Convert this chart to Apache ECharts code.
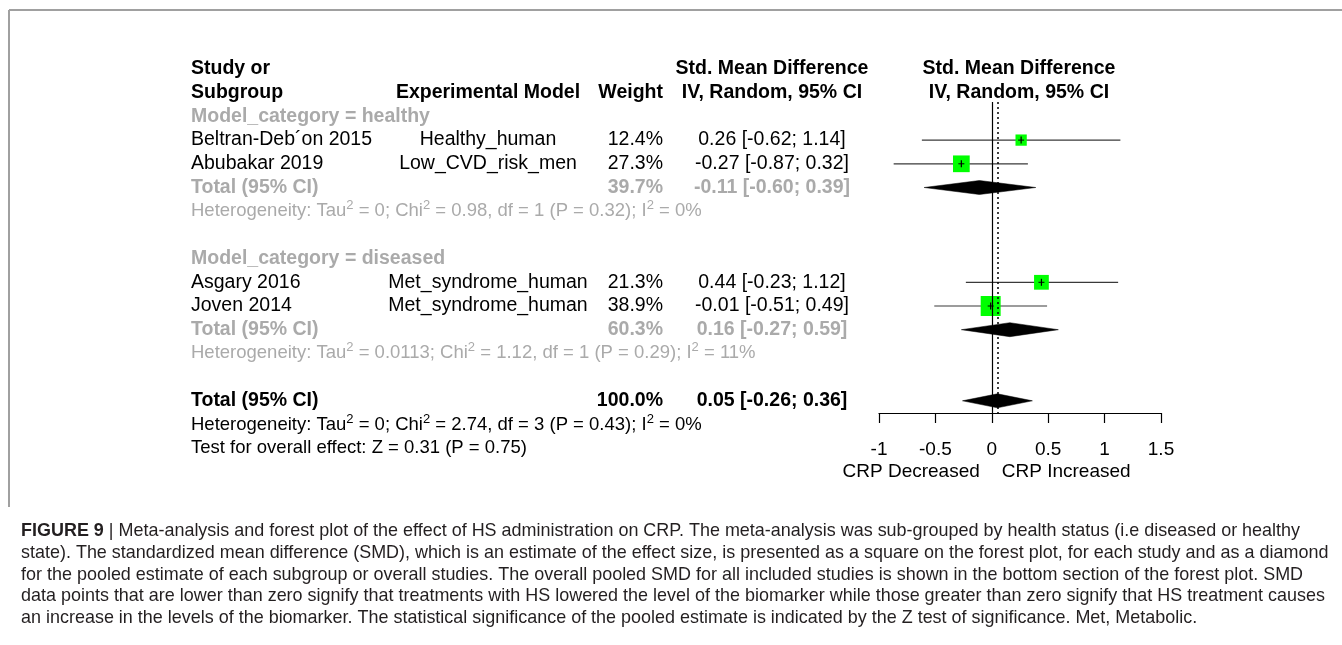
<!DOCTYPE html>
<html><head><meta charset="utf-8">
<script src="https://cdn.jsdelivr.net/npm/echarts@6/dist/echarts.min.js"></script>
<style>html,body{margin:0;padding:0;background:#fff}#c{width:1342px;height:645px}</style>
</head><body><div id="c"></div>
<script>
// ---------------- data ----------------
const studyNames = ["Beltran-Deb\u00b4on 2015", "Abubakar 2019", "Asgary 2016", "Joven 2014"];
const studyModels = ["Healthy_human", "Low_CVD_risk_men", "Met_syndrome_human", "Met_syndrome_human"];
const studyGroup = [0, 0, 1, 1];
const studyWeight = [12.4, 27.3, 21.3, 38.9];
const studySMD = [0.26, -0.27, 0.44, -0.01];
const studyLower = [-0.62, -0.87, -0.23, -0.51];
const studyUpper = [1.14, 0.32, 1.12, 0.49];

const groupLabels = ["Model_category = healthy", "Model_category = diseased"];
const pooledLabels = ["Total (95% CI)", "Total (95% CI)", "Total (95% CI)"];
const pooledWeight = [39.7, 60.3, 100.0];
const pooledSMD = [-0.11, 0.16, 0.05];
const pooledLower = [-0.60, -0.27, -0.26];
const pooledUpper = [0.39, 0.59, 0.36];

const hetTau2 = ["0", "0.0113", "0"];
const hetChi2 = ["0.98", "1.12", "2.74"];
const hetDf = [1, 1, 3];
const hetP = ["0.32", "0.29", "0.43"];
const hetI2 = ["0%", "11%", "0%"];
const overallZ = "0.31";
const overallP = "0.75";

const xTicks = [-1, -0.5, 0, 0.5, 1, 1.5];
const xTickLabels = ["-1", "-0.5", "0", "0.5", "1", "1.5"];
const directionLabels = ["CRP Decreased", "CRP Increased"];

const headerRow1 = ["Study or", "", "", "Std. Mean Difference", "Std. Mean Difference"];
const headerRow2 = ["Subgroup", "Experimental Model", "Weight", "IV, Random, 95% CI", "IV, Random, 95% CI"];

const captionLines = [
  "{b|FIGURE 9} | Meta-analysis and forest plot of the effect of HS administration on CRP. The meta-analysis was sub-grouped by health status (i.e diseased or healthy",
  "state). The standardized mean difference (SMD), which is an estimate of the effect size, is presented as a square on the forest plot, for each study and as a diamond",
  "for the pooled estimate of each subgroup or overall studies. The overall pooled SMD for all included studies is shown in the bottom section of the forest plot. SMD",
  "data points that are lower than zero signify that treatments with HS lowered the level of the biomarker while those greater than zero signify that HS treatment causes",
  "an increase in the levels of the biomarker. The statistical significance of the pooled estimate is indicated by the Z test of significance. Met, Metabolic."
];

// ---------------- layout ----------------
const FONT = "'Liberation Sans', Arial, sans-serif";
const GRAY = '#aaaaaa';
const ROW0_Y = 69, ROW_H = 23.7, GRID_TOP = 102, AXIS_Y = 413;
const PLOT_LEFT = 879, PLOT_RIGHT = 1161;
const COL_STUDY = 191, COL_MODEL = 488, COL_WEIGHT = 663, COL_CI = 772, COL_PLOT = 1019;
const CAP_X = 21, CAP_Y0 = 531, CAP_DY = 21.8, CAP_RIGHT = 1325, CAP_FS = 18.5;

// row assignment
let r = 2;
const groupRow = [], studyRow = [], pooledRow = [], hetRow = [];
for (let g = 0; g < groupLabels.length; g++) {
  groupRow[g] = r++;
  studyNames.forEach((n, i) => { if (studyGroup[i] === g) studyRow[i] = r++; });
  pooledRow[g] = r++;
  hetRow[g] = r++;
  r++;
}
pooledRow[2] = r++;
hetRow[2] = r++;
const testRow = r++;

const chart = echarts.init(document.getElementById('c'), null, {renderer: 'canvas', width: 1342, height: 645});

chart.setOption({
  animation: false,
  backgroundColor: '#fff',
  grid: {left: PLOT_LEFT, right: 1342 - PLOT_RIGHT, top: GRID_TOP, bottom: 645 - AXIS_Y, containLabel: false},
  xAxis: {
    type: 'value', min: xTicks[0], max: xTicks[xTicks.length - 1], interval: xTicks[1] - xTicks[0],
    position: 'bottom',
    axisLine: {show: true, onZero: false, lineStyle: {color: '#000', width: 1.2}},
    axisTick: {show: true, length: 10, lineStyle: {color: '#000', width: 1.2}},
    axisLabel: {color: '#000', fontSize: 19, fontFamily: FONT, margin: 27,
      formatter: v => { const k = xTicks.findIndex(t => Math.abs(t - v) < 1e-9); return k >= 0 ? xTickLabels[k] : ''; }},
    splitLine: {show: false}
  },
  yAxis: {type: 'value', inverse: true, show: false,
    min: (GRID_TOP - ROW0_Y) / ROW_H, max: (AXIS_Y - ROW0_Y) / ROW_H,
    splitLine: {show: false}},
  series: [
    {
      type: 'line', data: [], silent: true,
      markLine: {silent: true, symbol: 'none', label: {show: false}, animation: false,
        data: [
          {xAxis: 0, lineStyle: {type: 'solid', color: '#000', width: 1.2}},
          {xAxis: pooledSMD[2], lineStyle: {type: [2, 3], color: '#000', width: 1.5}}
        ]}
    },
    {
      type: 'custom', clip: false, z: 3,
      data: studyNames.map((n, i) => [studySMD[i], studyLower[i], studyUpper[i], studyRow[i], studyWeight[i]]),
      encode: {x: [0, 1, 2], y: 3},
      renderItem: (params, api) => {
        const est = api.value(0), lo = api.value(1), hi = api.value(2), row = api.value(3), w = api.value(4);
        const pE = api.coord([est, row]), pL = api.coord([lo, row]), pH = api.coord([hi, row]);
        const s = 3.2 * Math.sqrt(w);
        return {type: 'group', children: [
          {type: 'line', shape: {x1: pL[0], y1: pL[1], x2: pH[0], y2: pH[1]}, style: {stroke: '#3a3a3a', lineWidth: 1.2}},
          {type: 'rect', shape: {x: pE[0] - s / 2, y: pE[1] - s / 2, width: s, height: s}, style: {fill: '#00ff00'}},
          {type: 'line', shape: {x1: pE[0], y1: pE[1] - 3.5, x2: pE[0], y2: pE[1] + 3.5}, style: {stroke: '#000', lineWidth: 1.2}},
          {type: 'line', shape: {x1: pE[0] - 3, y1: pE[1], x2: pE[0] + 3, y2: pE[1]}, style: {stroke: '#000', lineWidth: 1}}
        ]};
      }
    },
    {
      type: 'custom', clip: false, z: 3,
      data: pooledSMD.map((v, i) => [v, pooledLower[i], pooledUpper[i], pooledRow[i]]),
      encode: {x: [0, 1, 2], y: 3},
      renderItem: (params, api) => {
        const est = api.value(0), lo = api.value(1), hi = api.value(2), row = api.value(3);
        const pE = api.coord([est, row]), pL = api.coord([lo, row]), pH = api.coord([hi, row]);
        const h = 7;
        return {type: 'polygon', shape: {points: [[pL[0], pL[1]], [pE[0], pE[1] - h], [pH[0], pH[1]], [pE[0], pE[1] + h]]},
          style: {fill: '#000', stroke: '#000', lineWidth: 0.5}};
      }
    }
  ]
});

const Y = row => chart.convertToPixel({yAxisIndex: 0}, row);
const X = v => chart.convertToPixel({xAxisIndex: 0}, v);

function txt(x, row, text, opts) {
  return {type: 'text', x: x, y: Y(row), silent: true, z: 10,
    style: Object.assign({text: text, fill: '#000', fontSize: 19.5, fontFamily: FONT, align: 'left', verticalAlign: 'middle'}, opts || {})};
}
function hetText(k, color) {
  const t = 'Heterogeneity: Tau{s|2} = ' + hetTau2[k] + '; Chi{s|2} = ' + hetChi2[k] + ', df = ' + hetDf[k] +
    ' (P = ' + hetP[k] + '); I{s|2} = ' + hetI2[k];
  return txt(COL_STUDY, hetRow[k], t, {fill: color, fontSize: 18.5, lineHeight: 24,
    rich: {s: {fontSize: 13, lineHeight: 13, verticalAlign: 'top', fill: color, fontFamily: FONT}}});
}
const ciStr = (e, l, h) => e.toFixed(2) + ' [' + l.toFixed(2) + '; ' + h.toFixed(2) + ']';

const g = [];
// border
g.push({type: 'line', shape: {x1: 9, y1: 10, x2: 1342, y2: 10}, style: {stroke: '#a0a0a0', lineWidth: 2}, silent: true});
g.push({type: 'line', shape: {x1: 9, y1: 10, x2: 9, y2: 507}, style: {stroke: '#a0a0a0', lineWidth: 2}, silent: true});

// headers
const B = {fontWeight: 'bold'};
g.push(txt(COL_STUDY, 0, headerRow1[0], B));
g.push(txt(COL_CI, 0, headerRow1[3], Object.assign({align: 'center'}, B)));
g.push(txt(COL_PLOT, 0, headerRow1[4], Object.assign({align: 'center'}, B)));
g.push(txt(COL_STUDY, 1, headerRow2[0], B));
g.push(txt(COL_MODEL, 1, headerRow2[1], Object.assign({align: 'center'}, B)));
g.push(txt(COL_WEIGHT, 1, headerRow2[2], Object.assign({align: 'right'}, B)));
g.push(txt(COL_CI, 1, headerRow2[3], Object.assign({align: 'center'}, B)));
g.push(txt(COL_PLOT, 1, headerRow2[4], Object.assign({align: 'center'}, B)));

// groups
groupLabels.forEach((lab, k) => {
  g.push(txt(COL_STUDY, groupRow[k], lab, {fontWeight: 'bold', fill: GRAY}));
});
studyNames.forEach((n, i) => {
  g.push(txt(COL_STUDY, studyRow[i], n));
  g.push(txt(COL_MODEL, studyRow[i], studyModels[i], {align: 'center'}));
  g.push(txt(COL_WEIGHT, studyRow[i], studyWeight[i].toFixed(1) + '%', {align: 'right'}));
  g.push(txt(COL_CI, studyRow[i], ciStr(studySMD[i], studyLower[i], studyUpper[i]), {align: 'center'}));
});
pooledLabels.forEach((lab, k) => {
  const col = k < 2 ? GRAY : '#000';
  g.push(txt(COL_STUDY, pooledRow[k], lab, {fontWeight: 'bold', fill: col}));
  g.push(txt(COL_WEIGHT, pooledRow[k], pooledWeight[k].toFixed(1) + '%', {fontWeight: 'bold', fill: col, align: 'right'}));
  g.push(txt(COL_CI, pooledRow[k], ciStr(pooledSMD[k], pooledLower[k], pooledUpper[k]), {fontWeight: 'bold', fill: col, align: 'center'}));
  g.push(hetText(k, col));
});
g.push(txt(COL_STUDY, testRow, 'Test for overall effect: Z = ' + overallZ + ' (P = ' + overallP + ')', {fontSize: 18.5}));

// direction labels
const x0 = X(0);
g.push({type: 'text', x: x0 - 12, y: 472, silent: true, style: {text: directionLabels[0], fill: '#000', fontSize: 19, fontFamily: FONT, align: 'right', verticalAlign: 'middle'}});
g.push({type: 'text', x: x0 + 10, y: 472, silent: true, style: {text: directionLabels[1], fill: '#000', fontSize: 19, fontFamily: FONT, align: 'left', verticalAlign: 'middle'}});

// caption
const ctx = document.createElement('canvas').getContext('2d');
ctx.font = CAP_FS + "px 'Liberation Sans'";
const capScale = (CAP_RIGHT - CAP_X) / ctx.measureText(captionLines[3]).width;
captionLines.forEach((line, k) => {
  g.push({type: 'text', x: CAP_X, y: CAP_Y0 + k * CAP_DY, scaleX: capScale, silent: true,
    style: {text: line, fill: '#231f20', fontSize: CAP_FS, fontFamily: FONT, align: 'left', verticalAlign: 'middle',
      rich: {b: {fontWeight: 'bold', fontSize: CAP_FS, fontFamily: FONT, fill: '#231f20'}}}});
});

chart.setOption({graphic: g});
</script>
</body></html>
